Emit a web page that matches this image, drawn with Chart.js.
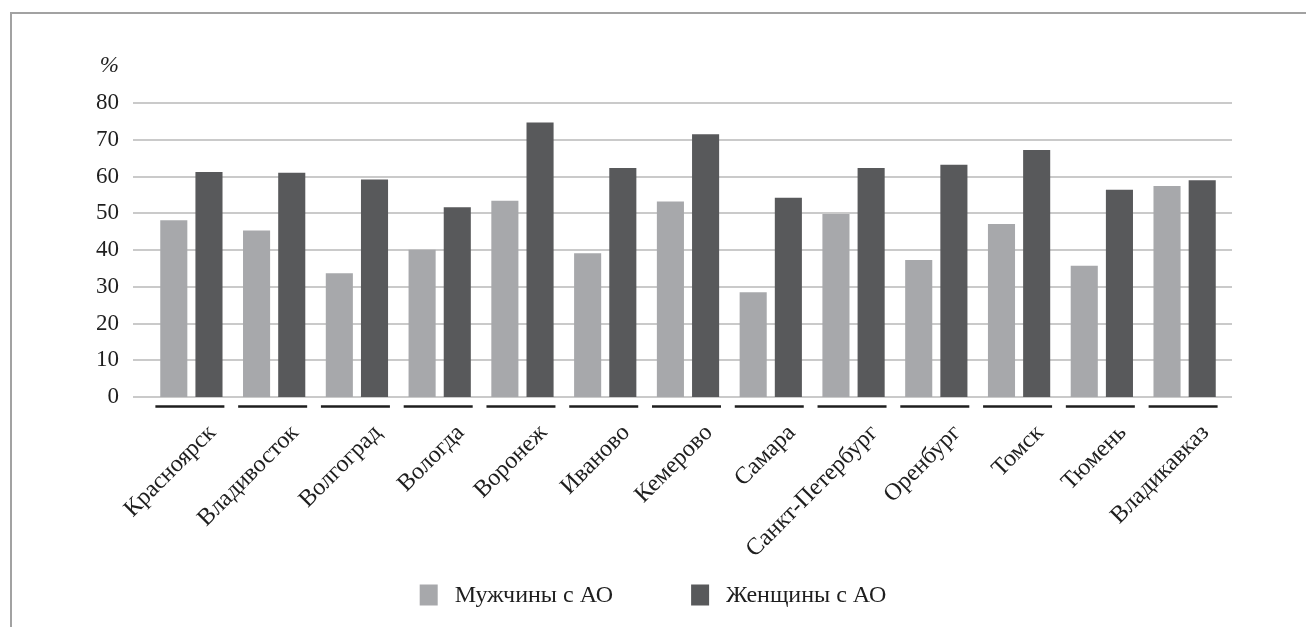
<!DOCTYPE html>
<html lang="ru">
<head>
<meta charset="utf-8">
<script src="https://cdn.jsdelivr.net/npm/chart.js@4/dist/chart.umd.min.js"></script>
<style>
  html, body { margin: 0; padding: 0; background: #ffffff; }
  #wrap { position: relative; width: 1306px; height: 627px; overflow: hidden; }
  #frame {
    position: absolute; left: 10px; top: 12px; width: 1300px; height: 620px;
    border-top: 2px solid #a2a2a2; border-left: 2px solid #a2a2a2;
    pointer-events: none;
  }
  canvas { position: absolute; left: 0; top: 0; }
  .warm { font-family: "Liberation Serif"; position: absolute; left: -9999px; }
</style>
</head>
<body>
<div id="wrap">
  <canvas id="chart" width="1306" height="627"></canvas>
  <div id="frame"></div>
</div>
<span class="warm">Мужчины с АО 0123456789 % <i>%</i></span>
<script>
// Cities
const cities = [
  'Красноярск', 'Владивосток', 'Волгоград', 'Вологда', 'Воронеж', 'Иваново',
  'Кемерово', 'Самара', 'Санкт-Петербург', 'Оренбург', 'Томск', 'Тюмень', 'Владикавказ'
];
// Share with abdominal obesity, %
const menAO   = [48.1, 45.3, 33.7, 40.1, 53.4, 39.1, 53.2, 28.5, 49.8, 37.3, 47.1, 35.7, 57.4];
const womenAO = [61.2, 61.0, 59.2, 51.6, 74.7, 62.3, 71.5, 54.2, 62.3, 63.2, 67.2, 56.4, 59.0];
const seriesNames = ['Мужчины с АО', 'Женщины с АО'];
const yTicks = { min: 0, max: 80, step: 10 };
const unitLabel = '%';

const FONT = '"Liberation Serif", "Times New Roman", serif';
const LIGHT = '#a7a8ab';
const DARK = '#58595b';
const INK = '#1e1e1e';

// Horizontal gridlines, a little wider than the category band
const gridPlugin = {
  id: 'wideGrid',
  beforeDatasetsDraw(chart) {
    const { ctx, chartArea, scales } = chart;
    const y = scales.y;
    ctx.save();
    ctx.strokeStyle = '#cacaca';
    ctx.lineWidth = 2;
    y.ticks.forEach(t => {
      const py = Math.round(y.getPixelForValue(t.value));
      ctx.beginPath();
      ctx.moveTo(chartArea.left - 17, py);
      ctx.lineTo(chartArea.right + 6, py);
      ctx.stroke();
    });
    ctx.restore();
  }
};

// Dark segment under each category, unit caption and legend
const decorPlugin = {
  id: 'decor',
  afterDraw(chart) {
    const { ctx, chartArea, scales } = chart;
    const x = scales.x, y = scales.y;
    ctx.save();
    // category underlines
    ctx.strokeStyle = INK;
    ctx.lineWidth = 2.5;
    const segY = chartArea.bottom + 9.5;
    cities.forEach((c, i) => {
      const cx = x.getPixelForValue(i) - 1.5;
      ctx.beginPath();
      ctx.moveTo(cx - 34.5, segY);
      ctx.lineTo(cx + 34.5, segY);
      ctx.stroke();
    });
    // unit caption above the value axis
    ctx.fillStyle = INK;
    ctx.font = 'italic 23px ' + FONT;
    ctx.textAlign = 'right';
    ctx.textBaseline = 'middle';
    ctx.fillText(unitLabel, chartArea.left - 31, y.getPixelForValue(yTicks.max + yTicks.step));
    // legend
    ctx.font = '24px ' + FONT;
    ctx.textAlign = 'left';
    const box = 18, gap = 17, between = 78;
    const items = chart.data.datasets.map(d => ({
      label: d.label, color: d.backgroundColor, w: ctx.measureText(d.label).width
    }));
    const total = items.reduce((s, it) => s + box + gap + it.w, 0) + between * (items.length - 1);
    let lx = chart.width / 2 - total / 2;
    const ly = 595;
    items.forEach(it => {
      ctx.fillStyle = it.color;
      ctx.fillRect(lx, ly - 10.5, box, 21);
      ctx.fillStyle = INK;
      ctx.fillText(it.label, lx + box + gap, ly + 1);
      lx += box + gap + it.w + between;
    });
    ctx.restore();
  }
};

function build() {
  new Chart(document.getElementById('chart'), {
    type: 'bar',
    data: {
      labels: cities,
      datasets: [
        { label: seriesNames[0], data: menAO, backgroundColor: LIGHT,
          categoryPercentage: 0.85, barPercentage: 0.77 },
        { label: seriesNames[1], data: womenAO, backgroundColor: DARK,
          categoryPercentage: 0.85, barPercentage: 0.77 }
      ]
    },
    options: {
      responsive: false,
      animation: false,
      devicePixelRatio: 1,
      layout: { padding: { top: 103, right: 80, left: 0, bottom: 0 } },
      plugins: { legend: { display: false }, tooltip: { enabled: false } },
      scales: {
        x: {
          grid: { display: false, drawTicks: false },
          border: { display: false },
          ticks: {
            color: INK,
            font: { family: FONT, size: 24 },
            minRotation: 45, maxRotation: 45,
            padding: 22,
            labelOffset: 21,
            autoSkip: false
          },
          afterFit(scale) { scale.height = 230; }
        },
        y: {
          min: yTicks.min, max: yTicks.max,
          grid: { display: false, drawTicks: false },
          border: { display: false },
          ticks: {
            stepSize: yTicks.step,
            color: INK,
            font: { family: FONT, size: 23 },
            padding: 31
          },
          afterFit(scale) { scale.width = 150; }
        }
      }
    },
    plugins: [gridPlugin, decorPlugin]
  });
}

Promise.all([
  document.fonts.load('22px "Liberation Serif"', 'Мужчины 0123'),
  document.fonts.load('italic 21px "Liberation Serif"', '%')
]).then(build, build);
</script>
</body>
</html>
